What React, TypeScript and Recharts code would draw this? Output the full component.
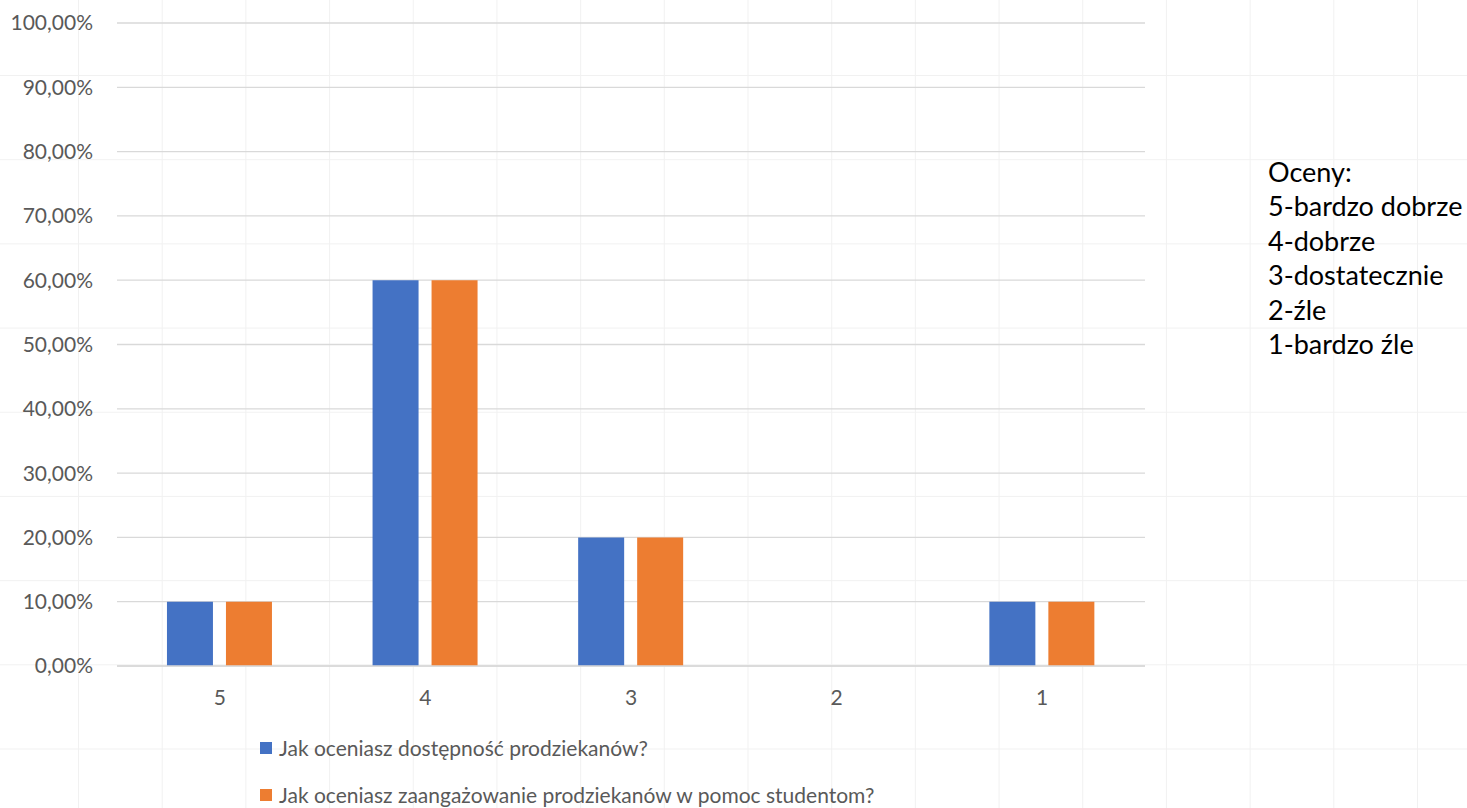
import { BarChart, Bar, XAxis, YAxis, CartesianGrid, Legend } from 'recharts';

const grades = ['5', '4', '3', '2', '1'];
const availability = [10, 60, 20, 0, 10];
const engagement = [10, 60, 20, 0, 10];
const yTicks = [0, 10, 20, 30, 40, 50, 60, 70, 80, 90, 100];
const seriesNames = [
  'Jak oceniasz dostępność prodziekanów?',
  'Jak oceniasz zaangażowanie prodziekanów w pomoc studentom?',
];
const noteLines = ['Oceny:', '5-bardzo dobrze', '4-dobrze', '3-dostatecznie', '2-źle', '1-bardzo źle'];

const data = grades.map((g, i) => ({ grade: g, a: availability[i], b: engagement[i] }));

const FONT = 'Lato, "Open Sans", sans-serif';
const fmt = (v: number) => `${v.toFixed(2).replace('.', ',')}%`;

function LegendBox({ payload }: any) {
  return (
    <div style={{ fontFamily: FONT, fontSize: 21, color: '#595959' }}>
      {(payload || []).map((p: any) => (
        <div key={p.value} style={{ display: 'flex', alignItems: 'center', height: 47 }}>
          <span style={{ width: 12, height: 12, background: p.color, marginRight: 7, display: 'inline-block' }} />
          {p.value}
        </div>
      ))}
    </div>
  );
}

export default function App() {
  return (
    <div
      style={{
        position: 'fixed',
        left: 0,
        top: 0,
        width: 1467,
        height: 808,
        background: '#fff',
        backgroundImage:
          'linear-gradient(to right, #f1f1f1 1px, transparent 1px), linear-gradient(to bottom, #f1f1f1 1px, transparent 1px)',
        backgroundSize: '83.7px 84.2px',
        backgroundPosition: '78px 75px',
        overflow: 'hidden',
      }}
    >
      <BarChart
        width={1467}
        height={808}
        data={data}
        margin={{ top: 23, right: 322, left: 0, bottom: 82 }}
        barCategoryGap="24.3%"
        barGap={13}
      >
        <CartesianGrid vertical={false} stroke="#d9d9d9" strokeWidth={1.3} />
        <XAxis
          dataKey="grade"
          height={60}
          axisLine={{ stroke: '#d9d9d9', strokeWidth: 1.3 }}
          tickLine={false}
          tickSize={0}
          tickMargin={24}
          tick={{ fontFamily: FONT, fontSize: 21, fill: '#595959' }}
        />
        <YAxis
          width={117}
          domain={[0, 100]}
          ticks={yTicks}
          tickFormatter={fmt}
          axisLine={false}
          tickLine={false}
          tickSize={0}
          tickMargin={24}
          tick={{ fontFamily: FONT, fontSize: 21, fill: '#595959' }}
        />
        <Legend
          layout="vertical"
          align="center"
          verticalAlign="middle"
          content={<LegendBox />}
          wrapperStyle={{ left: 260, top: 724, width: 800, height: 94 }}
        />
        <Bar dataKey="a" name={seriesNames[0]} fill="#4472C4" isAnimationActive={false} />
        <Bar dataKey="b" name={seriesNames[1]} fill="#ED7D31" isAnimationActive={false} />
      </BarChart>
      <div
        style={{
          position: 'absolute',
          left: 1268,
          top: 155,
          fontFamily: FONT,
          fontSize: 27,
          lineHeight: '34.4px',
          color: '#000',
        }}
      >
        {noteLines.map((l) => (
          <div key={l}>{l}</div>
        ))}
      </div>
    </div>
  );
}
